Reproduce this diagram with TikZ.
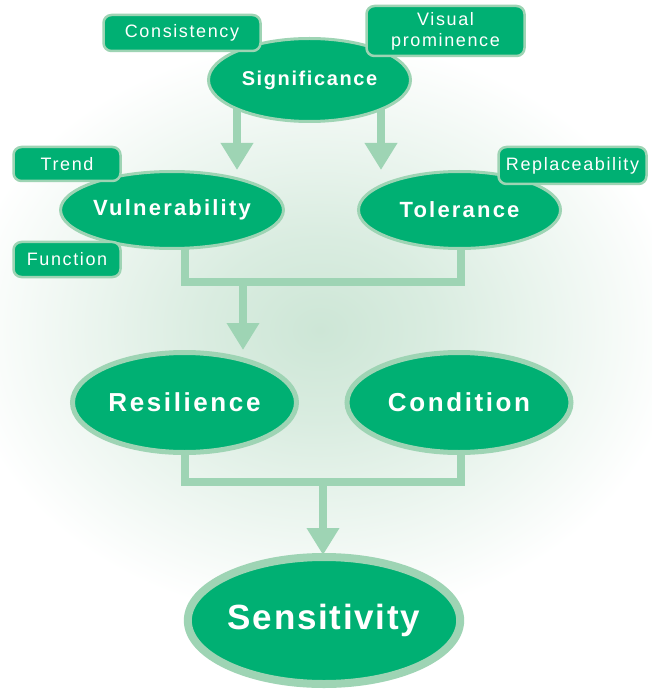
\documentclass[tikz,border=0pt]{standalone}
\usepackage{fontspec}
\setmainfont{Liberation Sans}
\newfontfamily\tagf[LetterSpace=9]{Liberation Sans}
\newfontfamily\sigf[LetterSpace=8]{Liberation Sans}
\newfontfamily\midf[LetterSpace=10]{Liberation Sans}
\newfontfamily\bigf[LetterSpace=5]{Liberation Sans}
\usetikzlibrary{shapes.geometric,arrows.meta}
\definecolor{mg}{RGB}{0,176,115}
\definecolor{lg}{RGB}{158,212,180}
\definecolor{glowc}{RGB}{205,230,214}
\pgfdeclareradialshading{glow}{\pgfpoint{0bp}{0bp}}{color(0bp)=(glowc); color(8bp)=(glowc!75!white); color(25bp)=(white); color(50bp)=(white)}
\pgfdeclarelayer{bg}
\pgfsetlayers{bg,main}
\tikzset{
  oval/.style={ellipse, fill=mg, draw=lg, text=white, inner sep=0pt},
  tag/.style={rectangle, rounded corners=8pt, fill=mg, draw=lg, line width=2.5pt, text=white, inner sep=0pt, align=center, font=\tagf\fontsize{18}{21}\selectfont},
  conn/.style={draw=lg, line width=8pt, line join=miter},
  arr/.style={conn, -{Triangle[width=31pt,length=27pt]}},
}
\begin{document}
\begin{tikzpicture}[x=1pt,y=-1pt]
\useasboundingbox (0,0) rectangle (652,692);
% coordinates
\coordinate (a1) at (237,170);
\coordinate (a2) at (381,170);
\coordinate (j1) at (243,282);
\coordinate (j2) at (323,482);
% ellipses
\node[oval, line width=3pt, minimum width=202pt, minimum height=83pt, font=\sigf\bfseries\fontsize{20}{24}\selectfont] (sig) at (309.5,80) {Significance};
\node[oval, line width=3pt, minimum width=203pt, minimum height=77pt, font=\midf\bfseries\fontsize{22}{26}\selectfont] (vul) at (172,210) {Vulnerability};
\node[oval, line width=3pt, minimum width=202pt, minimum height=77pt, font=\midf\bfseries\fontsize{22}{26}\selectfont] (tol) at (459.5,210) {Tolerance};
\node[oval, line width=5pt, minimum width=224pt, minimum height=100pt, font=\midf\bfseries\fontsize{26}{30}\selectfont] (res) at (184.5,402.5) {Resilience};
\node[oval, line width=5pt, minimum width=224pt, minimum height=100pt, font=\midf\bfseries\fontsize{26}{30}\selectfont] (con) at (459,402.5) {Condition};
\node[oval, line width=8pt, minimum width=264pt, minimum height=127pt, font=\bigf\bfseries\fontsize{35}{40}\selectfont] (sen) at (324,620.5) {Sensitivity};
% background and connectors
\begin{pgfonlayer}{bg}
\begin{scope}
\clip (0,0) rectangle (652,692);
\fill[white] (0,0) rectangle (652,692);
\shade[shading=glow] (-40,40) rectangle (680,620);
\end{scope}
\draw[arr] (sig.center -| a1) -- (a1);
\draw[arr] (sig.center -| a2) -- (a2);
\draw[conn] (vul.center -| 185,0) |- (j1) -| (tol.center -| 461,0);
\draw[arr] (j1) -- (j1 |- res.north);
\draw[conn] (res.center -| 185,0) |- (j2) -| (con.center -| 461,0);
\draw[arr] (j2) -- ([yshift=-2pt]j2 |- sen.north);
\end{pgfonlayer}
% tags
\node[tag, minimum width=157pt, minimum height=36pt] (cons) at (182,33) {Consistency};
\node[tag, minimum width=158pt, minimum height=50pt] (vis) at (445.5,31) {Visual\\prominence};
\node[tag, minimum width=107pt, minimum height=34pt] (tre) at (67,164) {Trend};
\node[tag, minimum width=107pt, minimum height=35pt] (fun) at (67,259.5) {Function};
\node[tag, minimum width=148pt, minimum height=37pt] (rep) at (572.5,165.5) {Replaceability};
\end{tikzpicture}
\end{document}
